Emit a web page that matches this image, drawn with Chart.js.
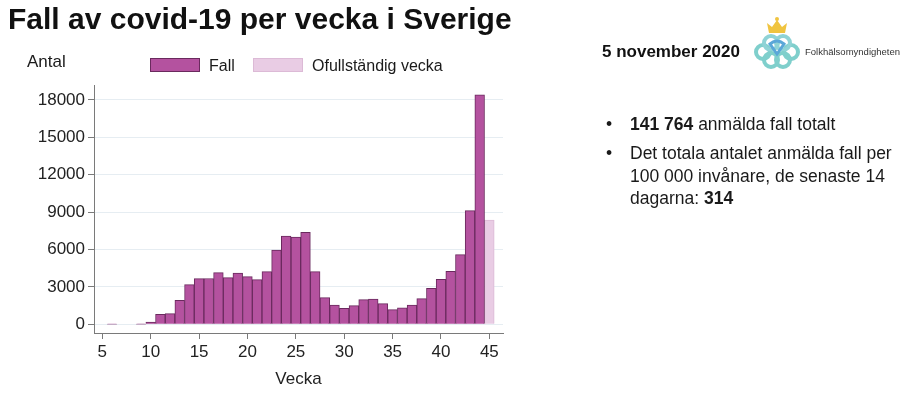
<!DOCTYPE html>
<html>
<head>
<meta charset="utf-8">
<script src="https://cdn.jsdelivr.net/npm/chart.js@4.4.0/dist/chart.umd.min.js"></script>
<style>
  html, body { margin: 0; padding: 0; background: #fff; }
  body { width: 912px; height: 396px; position: relative; overflow: hidden;
         font-family: "Liberation Sans", Arial, sans-serif; color: #1a1a1a; }
  #chart { position: absolute; left: 0; top: 0; }
  .t { position: absolute; line-height: 1; white-space: nowrap; }
  .sw { position: absolute; width: 50px; height: 14px; box-sizing: border-box; }
</style>
</head>
<body>
<canvas id="chart" width="912" height="396"></canvas>

<div class="t" style="left:8px; top:4px; font-size:30px; font-weight:bold; color:#111;">Fall av covid-19 per vecka i Sverige</div>
<div class="t" style="left:27px; top:53px; font-size:17px;">Antal</div>

<div class="sw" style="left:150px; top:58px; background:#b4529f; border:1px solid #6a2a5e;"></div>
<div class="t" style="left:209px; top:58px; font-size:16px;">Fall</div>
<div class="sw" style="left:253px; top:58px; background:#e9cce4; border:1px solid #dcbad6;"></div>
<div class="t" style="left:312px; top:58px; font-size:16px;">Ofullständig vecka</div>

<div class="t" style="left:602px; top:43px; font-size:17px; font-weight:bold; color:#111;">5 november 2020</div>

<svg style="position:absolute; left:748px; top:14px;" width="56" height="62" viewBox="0 0 56 62">
  <g fill="#f0c440">
    <path d="M21 19 L19 9 L24 13 L29 6 L34 13 L39 9 L37 19 Z"/>
    <circle cx="29" cy="5" r="2"/>
  </g>
  <g fill="none" stroke-width="4">
    <circle cx="15" cy="38" r="7" stroke="#7fcfcc"/>
    <circle cx="43" cy="38" r="7" stroke="#7fcfcc"/>
    <circle cx="23" cy="29" r="7" stroke="#8fd3d6"/>
    <circle cx="35" cy="29" r="7" stroke="#8fd3d6"/>
    <circle cx="23" cy="46" r="7" stroke="#7fcfcc"/>
    <circle cx="35" cy="46" r="7" stroke="#7fcfcc"/>
    <path d="M22 30 Q29 24 36 30 L29 40 Z" stroke="#5aa7d8" stroke-width="3"/>
  </g>
</svg>
<div class="t" style="left:805px; top:47px; font-size:9.5px; color:#333;">Folkhälsomyndigheten</div>

<div class="t" style="left:606px; top:116px; font-size:17.5px;">•</div>
<div class="t" style="left:630px; top:116px; font-size:17.5px;"><b>141 764</b> anmälda fall totalt</div>
<div class="t" style="left:606px; top:144.5px; font-size:17.5px;">•</div>
<div class="t" style="left:630px; top:142px; font-size:17.5px; line-height:22.6px;">Det totala antalet anmälda fall per<br>100 000 invånare, de senaste 14<br>dagarna: <b>314</b></div>

<script>
const veckor = [5, 6, 7, 8, 9, 10, 11, 12, 13, 14, 15, 16, 17, 18, 19, 20, 21, 22, 23, 24, 25,
  26, 27, 28, 29, 30, 31, 32, 33, 34, 35, 36, 37, 38, 39, 40, 41, 42, 43, 44, 45];
const fall = [null, 1, null, null, 15, 170, 800, 860, 1930, 3180, 3660, 3670, 4140, 3740, 4110, 3820, 3580, 4220, 5960, 7080, 7000,
  7380, 4220, 2140, 1550, 1280, 1500, 1980, 2030, 1660, 1180, 1310, 1550, 2060, 2890, 3610, 4250, 5590, 9120, 18420, null];
const ofullstandig = [null, null, null, null, null, null, null, null, null, null, null, null, null, null, null, null, null, null, null, null, null,
  null, null, null, null, null, null, null, null, null, null, null, null, null, null, null, null, null, null, null, 8370];
const xTicks = [5, 10, 15, 20, 25, 30, 35, 40, 45];
const yTicks = [0, 3000, 6000, 9000, 12000, 15000, 18000];

const axelFarg = '#7a7a7a';
const textFont = { family: '"Liberation Sans", Arial, sans-serif', size: 17 };

new Chart(document.getElementById('chart'), {
  type: 'bar',
  data: {
    labels: veckor,
    datasets: [
      { label: 'Fall', data: fall, backgroundColor: '#b4529f', borderColor: '#6a2a5e',
        borderWidth: 1, barPercentage: 1, categoryPercentage: 1, grouped: false },
      { label: 'Ofullständig vecka', data: ofullstandig, backgroundColor: '#e9cce4', borderColor: '#dcbad6',
        borderWidth: 1, barPercentage: 1, categoryPercentage: 1, grouped: false }
    ]
  },
  options: {
    responsive: false,
    animation: false,
    devicePixelRatio: 1,
    layout: { padding: { left: 0, top: 85, right: 409, bottom: 0 } },
    plugins: { legend: { display: false }, tooltip: { enabled: false } },
    scales: {
      x: {
        type: 'linear',
        offset: false,
        min: 4.14,
        max: 46.41,
        afterBuildTicks: s => { s.ticks = xTicks.map(v => ({ value: v })); },
        afterFit: s => { s.height = 63; },
        grid: { offset: false, drawOnChartArea: false, drawTicks: true, tickLength: 6, tickColor: axelFarg },
        border: { color: axelFarg, width: 1 },
        ticks: { autoSkip: false, maxRotation: 0, padding: 3, color: '#222', font: textFont,
                 callback: v => String(v) },
        title: { display: true, text: 'Vecka', color: '#222', font: textFont, padding: { top: 4, bottom: 6 } }
      },
      y: {
        min: -700,
        max: 19200,
        afterBuildTicks: s => { s.ticks = yTicks.map(v => ({ value: v })); },
        afterFit: s => { s.width = 94; },
        grid: { color: '#e6edf2', lineWidth: 1, tickLength: 6, tickColor: axelFarg },
        border: { color: axelFarg, width: 1 },
        ticks: { padding: 3, color: '#222', font: textFont, callback: v => String(v) }
      }
    }
  }
});
</script>
</body>
</html>
